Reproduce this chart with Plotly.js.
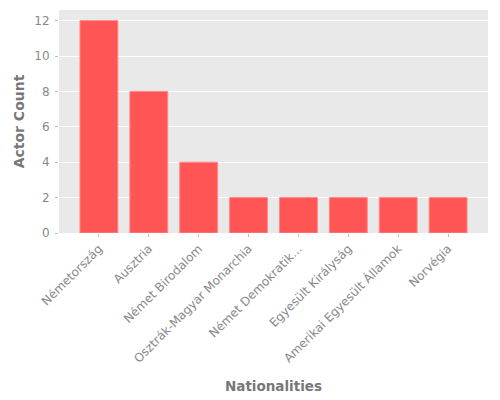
<!DOCTYPE html>
<html><head><meta charset="utf-8">
<script src="https://cdn.plot.ly/plotly-3.0.1.min.js"></script>
<style>body{margin:0;padding:0;background:#fff}#c{width:500px;height:400px}</style>
</head><body><div id="c"></div>
<script>
const categories = ["Németország","Ausztria","Német Birodalom","Osztrák-Magyar Monarchia","Német Demokratik...","Egyesült Királyság","Amerikai Egyesült Államok","Norvégia"];
const actorCounts = [12, 8, 4, 2, 2, 2, 2, 2];
const yTicks = [0, 2, 4, 6, 8, 10, 12];

Plotly.newPlot('c', [{
  type: 'bar', x: categories, y: actorCounts, width: 0.76,
  marker: {color: '#FF5555', line: {color: '#FF8A8A', width: 1}},
  hoverinfo: 'x+y'
}], {
  width: 500, height: 400,
  margin: {l: 59, r: 12, t: 10, b: 167},
  paper_bgcolor: '#FFFFFF', plot_bgcolor: '#E9E9E9',
  font: {family: 'DejaVu Sans', color: '#888888', size: 12},
  showlegend: false,
  xaxis: {
    range: [-0.8, 7.8], tickangle: -45, ticks: 'outside', ticklen: 3, tickcolor: '#BBBBBB',
    showgrid: false, zeroline: false, tickfont: {size: 12, color: '#888'},
    title: {text: '<b>Nationalities</b>', font: {size: 13.5, color: '#777'}, standoff: 16}
  },
  yaxis: {
    range: [0, 12.6], tickvals: yTicks, ticks: 'outside', ticklen: 3, tickcolor: '#BBBBBB',
    ticklabelstandoff: 3,
    gridcolor: '#FFFFFF', gridwidth: 1, zeroline: false, tickfont: {size: 12, color: '#888'},
    title: {text: '<b>Actor Count</b>', font: {size: 14, color: '#777'}, standoff: 6}
  }
}, {displayModeBar: false});
</script></body></html>
